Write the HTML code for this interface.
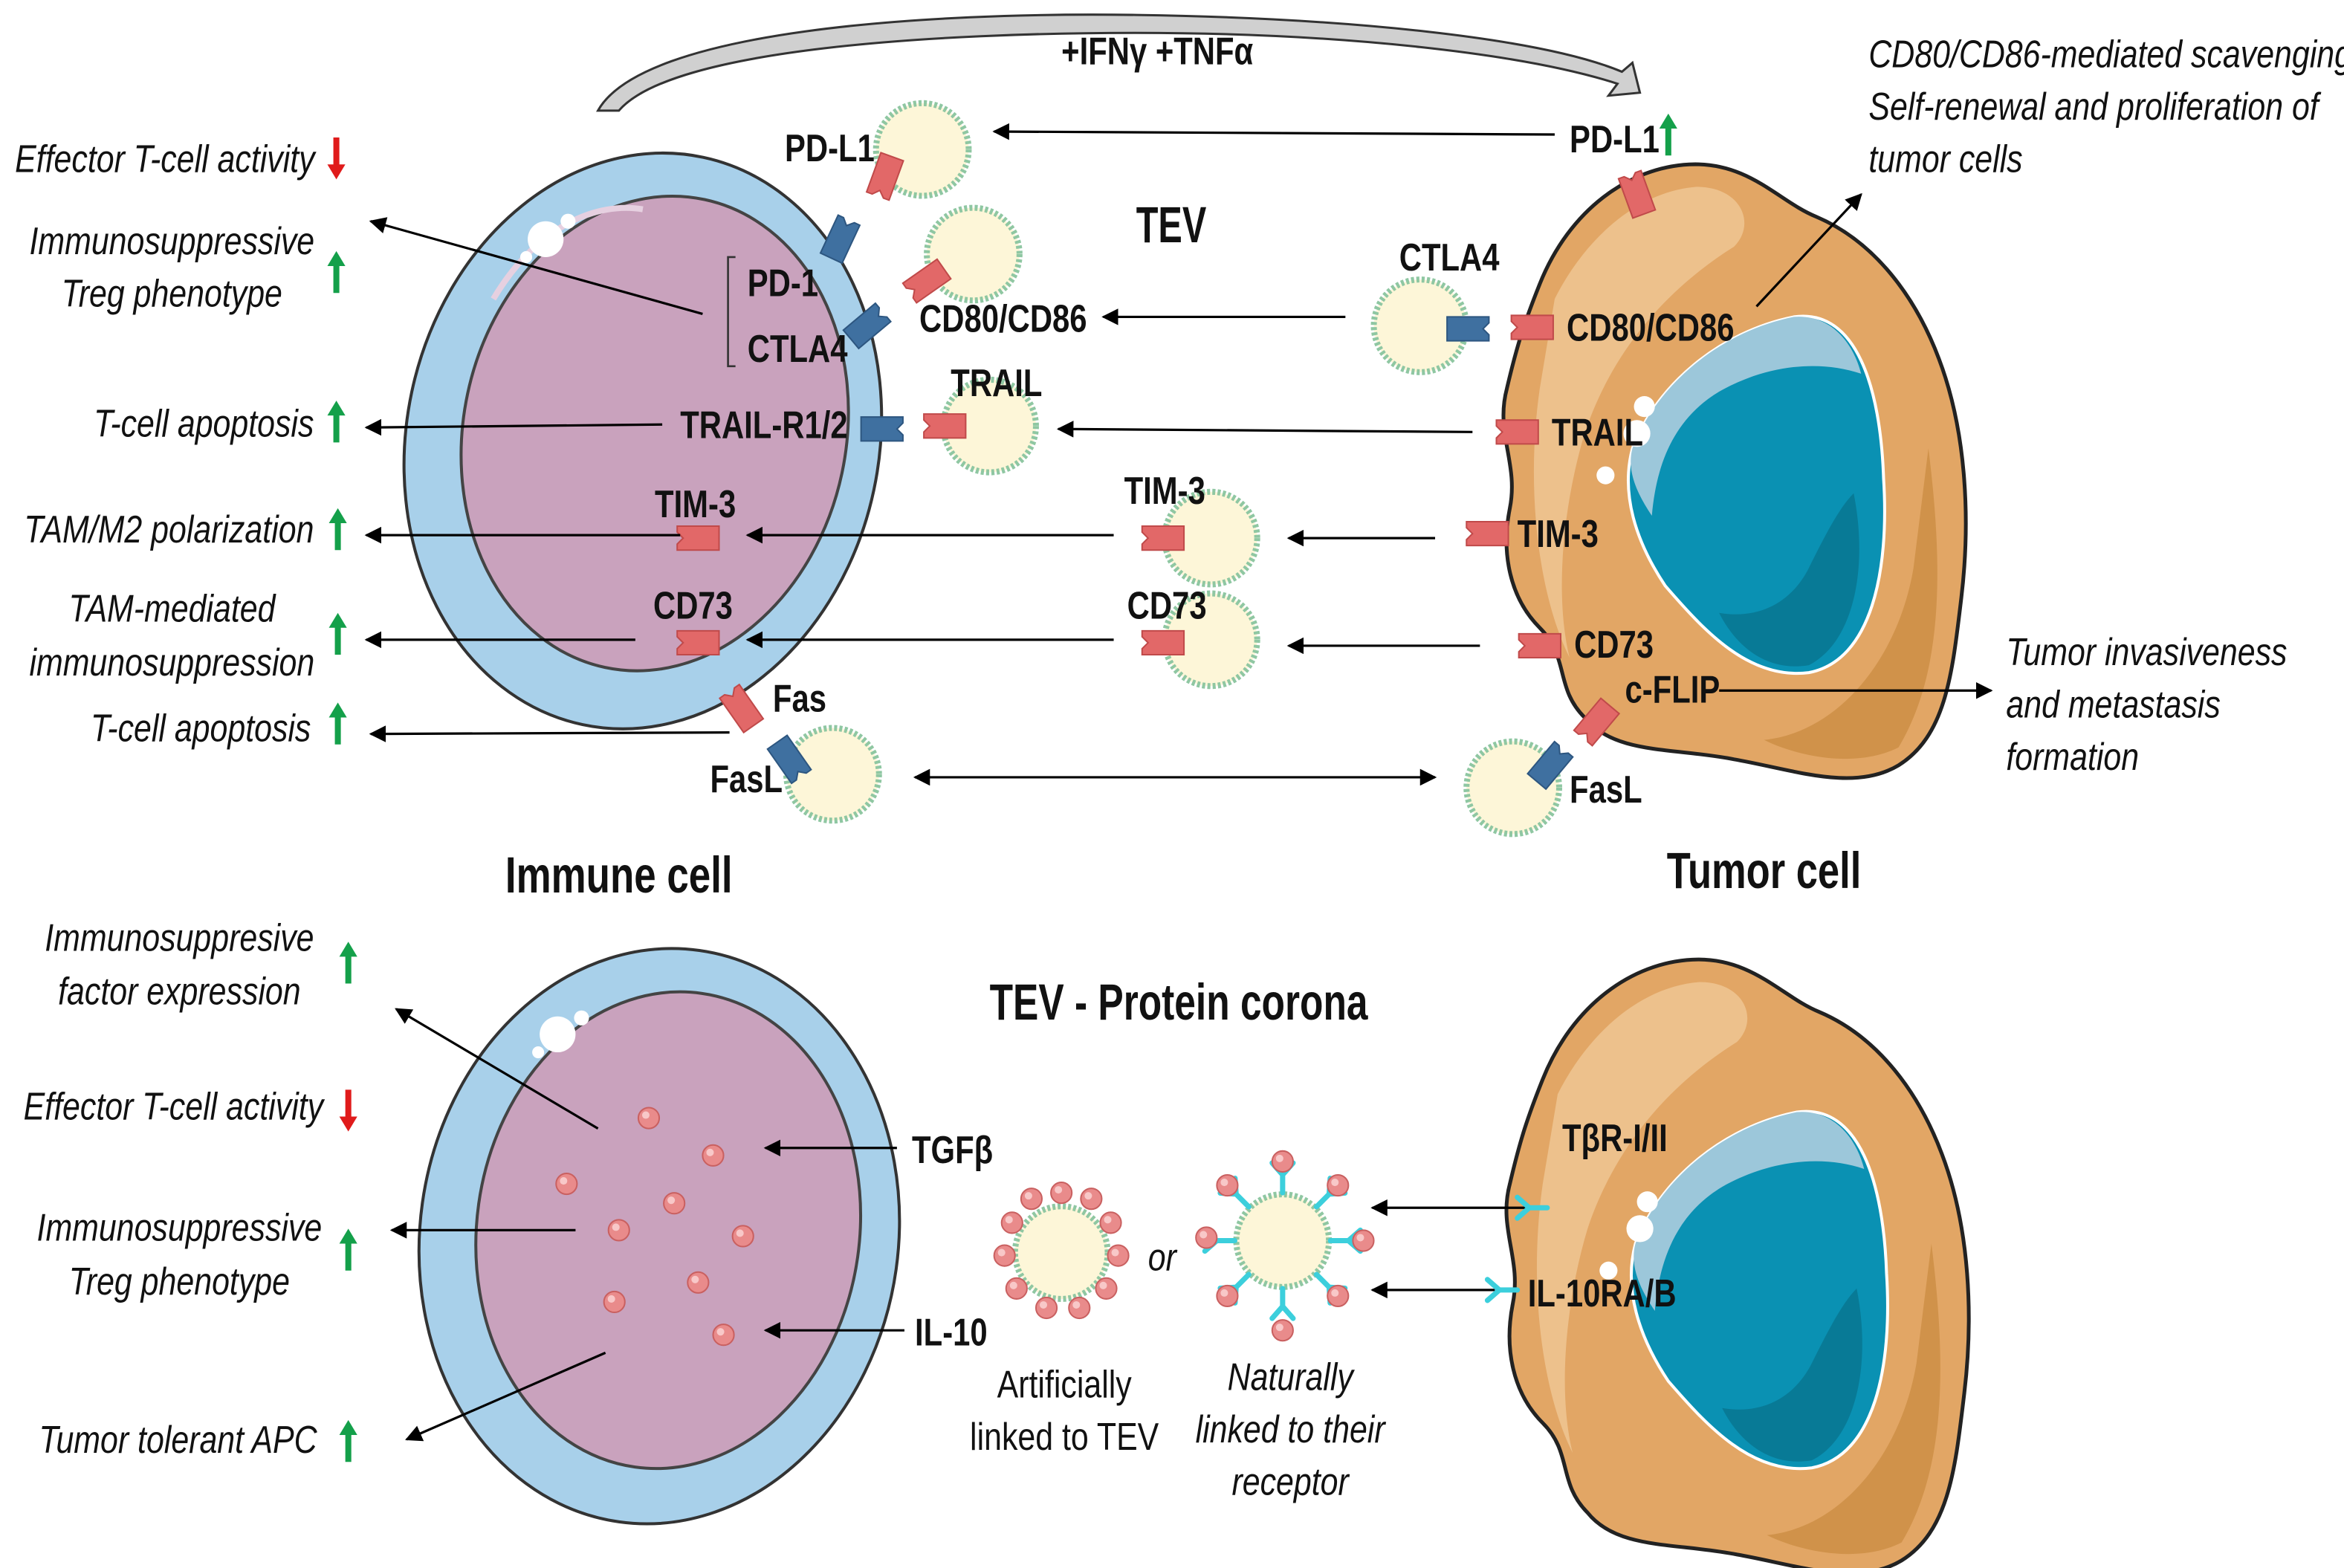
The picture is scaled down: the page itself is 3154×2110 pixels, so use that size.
<!DOCTYPE html>
<html><head><meta charset="utf-8"><style>
html,body{margin:0;padding:0;background:#fff;}
svg{display:block;}
text{font-family:"Liberation Sans Narrow","Liberation Sans",sans-serif;fill:#111;transform-box:fill-box;transform-origin:left center;}
text[text-anchor=end]{transform-origin:right center;}
text[text-anchor=middle]{transform-origin:center center;}
.b{font-weight:bold;font-size:26px;transform:scaleX(0.8);}
.i{font-style:italic;font-size:26px;transform:scaleX(0.82);}
.n{font-size:26px;transform:scaleX(0.82);}
.t{font-weight:bold;font-size:34px;}
</style></head><body>
<svg width="3154" height="2110" viewBox="0 0 1568 1049" preserveAspectRatio="none" xmlns="http://www.w3.org/2000/svg">
<defs>
<marker id="a" viewBox="0 0 10 10" refX="9" refY="5" markerWidth="7" markerHeight="7" orient="auto-start-reverse"><path d="M0,0 L10,5 L0,10 Z" fill="#000"/></marker>
<g id="rr"><path d="M-14,-8 H14 V8 H-14 V4 L-10,0 L-14,-4 Z" fill="#e26868" stroke="#c04a4a" stroke-width="1"/></g>
<g id="rb"><path d="M-14,-8 H14 V-4 L10,0 L14,4 V8 H-14 Z" fill="#3f70a0" stroke="#2d5680" stroke-width="1"/></g>
<g id="ves"><circle r="31" fill="#fdf6d8" stroke="#8fc7a2" stroke-width="4" stroke-dasharray="2 1.5"/></g>
<g id="pk"><circle r="7" fill="#e98b8b" stroke="#c96060" stroke-width="1"/><circle cx="-2" cy="-2" r="2.5" fill="#f8c8c8"/></g>
<g id="cy"><path d="M0,0 V-12 M0,-12 L-7,-20 M0,-12 L7,-20" stroke="#3ccfdc" stroke-width="3.5" fill="none" stroke-linecap="round"/></g>
<g id="tum">
<path d="M1030,190 C1050,140 1090,112 1130,110 C1170,108 1190,135 1215,145 C1255,162 1282,200 1297,240 C1316,290 1318,350 1312,400 C1306,450 1302,492 1270,512 C1240,530 1200,515 1160,508 C1120,500 1080,505 1060,480 C1040,460 1050,440 1030,420 C1010,400 1004,370 1010,340 C1016,310 1000,290 1008,260 C1015,230 1020,215 1030,190Z" fill="#e2a665" stroke="#222" stroke-width="2.5"/>
<path d="M1040,200 C1060,160 1095,128 1135,125 C1165,125 1175,150 1160,165 C1120,190 1080,230 1060,290 C1045,340 1040,400 1050,440 C1030,400 1020,330 1030,260Z" fill="#f0c896" opacity="0.8"/>
<path d="M1290,300 C1300,380 1300,450 1270,500 C1240,515 1200,505 1180,495 C1230,490 1270,440 1280,380Z" fill="#c98a3e" opacity="0.7"/>
<path d="M1092,300 C1108,258 1150,222 1200,212 C1242,206 1258,260 1260,320 C1264,382 1252,442 1210,450 C1170,455 1140,422 1114,392 C1094,362 1084,330 1092,300Z" fill="#0a91b3" stroke="#fff" stroke-width="2"/>
<path d="M1092,300 C1108,258 1150,222 1200,212 C1225,210 1240,230 1245,250 C1215,240 1180,245 1150,262 C1120,280 1108,310 1105,345 C1095,330 1088,315 1092,300Z" fill="#9cc7da"/>
<path d="M1240,330 C1250,380 1240,430 1210,445 C1180,450 1160,430 1150,410 C1180,415 1200,400 1210,380 C1220,360 1230,340 1240,330Z" fill="#087a96"/>
<circle cx="1100" cy="272" r="7" fill="#fff"/><circle cx="1095" cy="290" r="9" fill="#fff"/><circle cx="1074" cy="318" r="6" fill="#fff"/>
</g>
</defs>

<path d="M400,74 C430,20 620,8 760,10 C900,12 1030,25 1085,48 L1092,42 L1097,62 L1076,64 L1082,56 C1020,36 900,22 760,22 C630,22 450,32 414,74 Z" fill="#d0d0d0" stroke="#333" stroke-width="1.5"/>
<text class="b" x="710" y="43">+IFNγ +TNFα</text>

<ellipse cx="430" cy="295" rx="158" ry="194" transform="rotate(12 430 295)" fill="#a8d0ea" stroke="#333" stroke-width="2"/>
<ellipse cx="438" cy="290" rx="128" ry="160" transform="rotate(12 438 290)" fill="#c9a2bd" stroke="#444" stroke-width="2"/>
<path d="M330,200 C360,150 400,135 430,140" stroke="#e6d0e0" stroke-width="4" fill="none"/>
<circle cx="365" cy="160" r="12" fill="#fff"/><circle cx="380" cy="148" r="5" fill="#fff"/><circle cx="352" cy="172" r="4" fill="#fff"/>

<use href="#tum"/>

<use href="#ves" x="617" y="100"/>
<use href="#ves" x="651" y="170"/>
<use href="#ves" x="662" y="285"/>
<use href="#ves" x="810" y="360"/>
<use href="#ves" x="810" y="428"/>
<use href="#ves" x="557" y="518"/>
<use href="#ves" x="950" y="218"/>
<use href="#ves" x="1012" y="527"/>

<use href="#rr" transform="translate(592,118) rotate(-70)"/>
<use href="#rb" transform="translate(562,160) rotate(-65)"/>
<use href="#rb" transform="translate(580,218) rotate(-40)"/>
<use href="#rr" transform="translate(620,188) rotate(-35)"/>
<use href="#rb" transform="translate(590,287)"/>
<use href="#rr" transform="translate(632,285)"/>
<use href="#rr" transform="translate(467,360)"/>
<use href="#rr" transform="translate(778,360)"/>
<use href="#rr" transform="translate(467,430)"/>
<use href="#rr" transform="translate(778,430)"/>
<use href="#rr" transform="translate(496,474) rotate(55)"/>
<use href="#rb" transform="translate(528,508) rotate(55)"/>
<use href="#rb" transform="translate(982,220)"/>
<use href="#rr" transform="translate(1025,219)"/>
<use href="#rr" transform="translate(1015,289)"/>
<use href="#rr" transform="translate(995,357)"/>
<use href="#rr" transform="translate(1030,432)"/>
<use href="#rr" transform="translate(1095,130) rotate(70)"/>
<use href="#rr" transform="translate(1068,483) rotate(-50)"/>
<use href="#rb" transform="translate(1037,512) rotate(-50)"/>

<g stroke="#000" stroke-width="1.6" fill="none" marker-end="url(#a)">
<line x1="1040" y1="90" x2="665" y2="88"/>
<line x1="900" y1="212" x2="738" y2="212"/>
<line x1="985" y1="289" x2="708" y2="287"/>
<line x1="960" y1="360" x2="862" y2="360"/>
<line x1="745" y1="358" x2="500" y2="358"/>
<line x1="990" y1="432" x2="862" y2="432"/>
<line x1="745" y1="428" x2="500" y2="428"/>
<line x1="470" y1="210" x2="248" y2="148"/>
<line x1="443" y1="284" x2="245" y2="286"/>
<line x1="455" y1="358" x2="245" y2="358"/>
<line x1="425" y1="428" x2="245" y2="428"/>
<line x1="488" y1="490" x2="248" y2="491"/>
<line x1="1175" y1="205" x2="1245" y2="130"/>
<line x1="1150" y1="462" x2="1332" y2="462"/>
<line x1="612" y1="520" x2="960" y2="520" marker-start="url(#a)"/>
</g>
<path d="M492,172 H487 V245 H492" stroke="#333" stroke-width="1.3" fill="none"/>

<text class="b" x="525" y="108">PD-L1</text>
<text class="b" x="500" y="198">PD-1</text>
<text class="b" x="500" y="242">CTLA4</text>
<text class="b" x="455" y="293">TRAIL-R1/2</text>
<text class="b" x="438" y="346">TIM-3</text>
<text class="b" x="437" y="414">CD73</text>
<text class="b" x="517" y="476">Fas</text>
<text class="b" x="475" y="530">FasL</text>
<text class="b" x="615" y="222">CD80/CD86</text>
<text class="b" x="636" y="265">TRAIL</text>
<text class="b" x="752" y="337">TIM-3</text>
<text class="b" x="754" y="414">CD73</text>
<text class="t" x="760" y="162" textLength="47" lengthAdjust="spacingAndGlyphs">TEV</text>
<text class="b" x="936" y="181">CTLA4</text>
<text class="b" x="1050" y="102">PD-L1</text>
<text class="b" x="1048" y="228">CD80/CD86</text>
<text class="b" x="1038" y="298">TRAIL</text>
<text class="b" x="1015" y="366">TIM-3</text>
<text class="b" x="1053" y="440">CD73</text>
<text class="b" x="1087" y="470">c-FLIP</text>
<text class="b" x="1050" y="537">FasL</text>
<text class="t" x="338" y="597" textLength="152" lengthAdjust="spacingAndGlyphs">Immune cell</text>
<text class="t" x="1115" y="594" textLength="130" lengthAdjust="spacingAndGlyphs">Tumor cell</text>
<text class="t" x="662" y="682" textLength="253" lengthAdjust="spacingAndGlyphs">TEV - Protein corona</text>

<text class="i" x="10" y="115">Effector T-cell activity</text>
<text class="i" x="115" y="170" text-anchor="middle">Immunosuppressive</text>
<text class="i" x="115" y="205" text-anchor="middle">Treg phenotype</text>
<text class="i" x="210" y="292" text-anchor="end">T-cell apoptosis</text>
<text class="i" x="210" y="363" text-anchor="end">TAM/M2 polarization</text>
<text class="i" x="115" y="416" text-anchor="middle">TAM-mediated</text>
<text class="i" x="115" y="452" text-anchor="middle">immunosuppression</text>
<text class="i" x="208" y="496" text-anchor="end">T-cell apoptosis</text>
<text class="i" x="1250" y="45">CD80/CD86-mediated scavenging</text>
<text class="i" x="1250" y="80">Self-renewal and proliferation of</text>
<text class="i" x="1250" y="115">tumor cells</text>
<text class="i" x="1342" y="445">Tumor invasiveness</text>
<text class="i" x="1342" y="480">and metastasis</text>
<text class="i" x="1342" y="515">formation</text>

<g stroke-width="4">
<path d="M225,92 V114" stroke="#e01b1b"/><path d="M219,110 L225,120 L231,110Z" fill="#e01b1b"/>
<g stroke="#14a04a" fill="#14a04a">
<path d="M225,196 V176"/><path d="M219,178 L225,168 L231,178Z" stroke="none"/>
<path d="M225,296 V276"/><path d="M219,278 L225,268 L231,278Z" stroke="none"/>
<path d="M226,368 V348"/><path d="M220,350 L226,340 L232,350Z" stroke="none"/>
<path d="M226,438 V418"/><path d="M220,420 L226,410 L232,420Z" stroke="none"/>
<path d="M226,498 V478"/><path d="M220,480 L226,470 L232,480Z" stroke="none"/>
<path d="M1116,104 V84"/><path d="M1110,86 L1116,76 L1122,86Z" stroke="none"/>
<path d="M233,658 V638"/><path d="M227,640 L233,630 L239,640Z" stroke="none"/>
<path d="M233,850 V830"/><path d="M227,832 L233,822 L239,832Z" stroke="none"/>
<path d="M233,978 V958"/><path d="M227,960 L233,950 L239,960Z" stroke="none"/>
</g>
<path d="M233,729 V751" stroke="#e01b1b"/><path d="M227,747 L233,757 L239,747Z" fill="#e01b1b"/>
</g>

<ellipse cx="441" cy="827" rx="160" ry="193" transform="rotate(8 441 827)" fill="#a8d0ea" stroke="#333" stroke-width="2"/>
<ellipse cx="447" cy="823" rx="128" ry="160" transform="rotate(8 447 823)" fill="#c9a2bd" stroke="#444" stroke-width="2"/>
<circle cx="373" cy="692" r="12" fill="#fff"/><circle cx="389" cy="681" r="5" fill="#fff"/><circle cx="360" cy="704" r="4" fill="#fff"/>
<use href="#pk" x="434" y="748"/><use href="#pk" x="477" y="773"/><use href="#pk" x="379" y="792"/>
<use href="#pk" x="451" y="805"/><use href="#pk" x="414" y="823"/><use href="#pk" x="497" y="827"/>
<use href="#pk" x="467" y="858"/><use href="#pk" x="411" y="871"/><use href="#pk" x="484" y="893"/>

<use href="#tum" transform="translate(2,532)"/>

<use href="#ves" x="710" y="838"/>
<use href="#pk" x="710" y="798"/><use href="#pk" x="690" y="802"/><use href="#pk" x="730" y="802"/>
<use href="#pk" x="677" y="818"/><use href="#pk" x="743" y="818"/><use href="#pk" x="672" y="840"/>
<use href="#pk" x="748" y="840"/><use href="#pk" x="680" y="862"/><use href="#pk" x="740" y="862"/>
<use href="#pk" x="700" y="875"/><use href="#pk" x="722" y="875"/>

<use href="#ves" x="858" y="830"/>
<g>
<use href="#cy" transform="translate(858,830) rotate(0) translate(0,-32)"/>
<use href="#cy" transform="translate(858,830) rotate(45) translate(0,-32)"/>
<use href="#cy" transform="translate(858,830) rotate(90) translate(0,-32)"/>
<use href="#cy" transform="translate(858,830) rotate(135) translate(0,-32)"/>
<use href="#cy" transform="translate(858,830) rotate(180) translate(0,-32)"/>
<use href="#cy" transform="translate(858,830) rotate(225) translate(0,-32)"/>
<use href="#cy" transform="translate(858,830) rotate(270) translate(0,-32)"/>
<use href="#cy" transform="translate(858,830) rotate(315) translate(0,-32)"/>
</g>
<use href="#pk" x="858" y="777"/><use href="#pk" x="895" y="793"/><use href="#pk" x="912" y="830"/>
<use href="#pk" x="895" y="867"/><use href="#pk" x="858" y="890"/><use href="#pk" x="821" y="867"/>
<use href="#pk" x="807" y="828"/><use href="#pk" x="821" y="793"/>

<g stroke="#000" stroke-width="1.6" fill="none" marker-end="url(#a)">
<line x1="400" y1="755" x2="265" y2="675"/>
<line x1="385" y1="823" x2="262" y2="823"/>
<line x1="405" y1="905" x2="272" y2="963"/>
<line x1="600" y1="768" x2="512" y2="768"/>
<line x1="605" y1="890" x2="512" y2="890"/>
<line x1="1033" y1="808" x2="918" y2="808"/>
<line x1="1000" y1="863" x2="918" y2="863"/>
</g>
<use href="#cy" transform="translate(1035,808) rotate(-90)"/>
<use href="#cy" transform="translate(1015,863) rotate(-90)"/>

<text class="b" x="610" y="778">TGFβ</text>
<text class="b" x="612" y="900">IL-10</text>
<text class="b" x="1045" y="770">TβR-I/II</text>
<text class="b" x="1022" y="874">IL-10RA/B</text>
<text class="i" x="768" y="850">or</text>
<text class="n" x="712" y="935" text-anchor="middle">Artificially</text>
<text class="n" x="712" y="970" text-anchor="middle">linked to TEV</text>
<text class="i" x="863" y="930" text-anchor="middle">Naturally</text>
<text class="i" x="863" y="965" text-anchor="middle">linked to their</text>
<text class="i" x="863" y="1000" text-anchor="middle">receptor</text>

<text class="i" x="120" y="636" text-anchor="middle">Immunosuppresive</text>
<text class="i" x="120" y="672" text-anchor="middle">factor expression</text>
<text class="i" x="216" y="749" text-anchor="end">Effector T-cell activity</text>
<text class="i" x="120" y="830" text-anchor="middle">Immunosuppressive</text>
<text class="i" x="120" y="866" text-anchor="middle">Treg phenotype</text>
<text class="i" x="212" y="972" text-anchor="end">Tumor tolerant APC</text>
</svg>
</body></html>
